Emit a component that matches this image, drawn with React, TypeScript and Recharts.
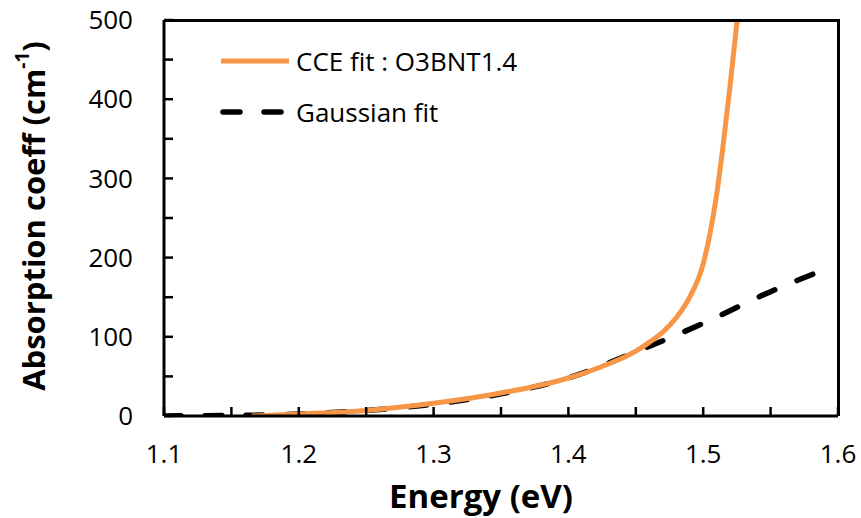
import React from 'react';
import { LineChart, Line, XAxis, YAxis } from 'recharts';

// Energy (eV) and absorption coefficient (cm^-1)
const cceEnergy = [1.165, 1.2, 1.25, 1.3, 1.35, 1.4, 1.43, 1.45, 1.46, 1.47, 1.48, 1.49, 1.5, 1.505, 1.51, 1.515, 1.52, 1.5252];
const cceValues = [0, 2.5, 7, 16, 29, 48, 66, 82, 93, 106, 124, 150, 192, 230, 280, 345, 418, 500];

const gaussEnergy = [1.1, 1.15, 1.2, 1.25, 1.3, 1.35, 1.4, 1.45, 1.5, 1.55, 1.59];
const gaussValues = [0.1, 0.6, 2.5, 7, 15, 28, 48, 81, 117, 157, 185];

const xTicks = [1.1, 1.15, 1.2, 1.25, 1.3, 1.35, 1.4, 1.45, 1.5, 1.55, 1.6];
const yTicks = [0, 50, 100, 150, 200, 250, 300, 350, 400, 450, 500];

const seriesNames = ['CCE fit : O3BNT1.4', 'Gaussian fit'];
const xTitle = 'Energy (eV)';
const yTitle = 'Absorption coeff (cm';

const cceData = cceEnergy.map((x, i) => ({ x, y: cceValues[i] }));
const gaussData = gaussEnergy.map((x, i) => ({ x, y: gaussValues[i] }));

const FONT = '"Open Sans", sans-serif';
const ORANGE = '#F79646';

const YTitle = (props: any) => {
  const vb = props.viewBox || { x: 0, y: 20, width: 164, height: 396 };
  const cx = vb.x + 33;
  const cy = vb.y + vb.height / 2 - 2;
  return (
    <text
      x={cx}
      y={cy}
      transform={`rotate(-90, ${cx}, ${cy})`}
      textAnchor="middle"
      dominantBaseline="central"
      fontFamily={FONT}
      fontWeight="bold"
      fontSize={31}
      fill="#000"
    >
      {yTitle}
      <tspan dy={-11} fontSize={19}>-1</tspan>
      <tspan dy={11}>)</tspan>
    </text>
  );
};

const XTitle = (props: any) => {
  const vb = props.viewBox || { x: 164, y: 416, width: 674, height: 60 };
  return (
    <text
      x={vb.x + 317}
      y={508}
      textAnchor="middle"
      fontFamily={FONT}
      fontWeight="bold"
      fontSize={33}
      fill="#000"
    >
      {xTitle}
    </text>
  );
};

const LegendBox = () => (
  <svg width={420} height={90} style={{ display: 'block', overflow: 'visible' }}>
    <line x1={1} x2={69} y1={16} y2={16} stroke={ORANGE} strokeWidth={5} />
    <text x={76} y={16} dominantBaseline="central" fontFamily={FONT} fontSize={26} fill="#000">
      {seriesNames[0]}
    </text>
    <line
      x1={3}
      x2={64}
      y1={67}
      y2={67}
      stroke="#000"
      strokeWidth={5.5}
      strokeLinecap="round"
      strokeDasharray="17 24"
    />
    <text x={76} y={67} dominantBaseline="central" fontFamily={FONT} fontSize={26} fill="#000">
      {seriesNames[1]}
    </text>
  </svg>
);

export default function App() {
  return (
    <div style={{ position: 'absolute', left: 0, top: 0, width: 861, height: 518, background: '#fff' }}>
      <LineChart
        width={861}
        height={518}
        margin={{ top: 20, right: 23, bottom: 42, left: 0 }}
        style={{ fontFamily: FONT }}
      >
        <XAxis
          dataKey="x"
          type="number"
          domain={[1.1, 1.6]}
          ticks={xTicks}
          allowDataOverflow
          height={60}
          tickSize={-9}
          tickMargin={38}
          interval={0}
          tickFormatter={(v: number) => (Math.round(v * 100) % 10 === 0 ? v.toFixed(1) : '')}
          tick={{ fill: '#000', fontSize: 26, fontFamily: FONT }}
          axisLine={{ stroke: '#000', strokeWidth: 3 }}
          tickLine={{ stroke: '#000', strokeWidth: 2.5 }}
          label={<XTitle />}
        />
        <YAxis
          type="number"
          domain={[0, 500]}
          ticks={yTicks}
          allowDataOverflow
          width={164}
          tickSize={-9}
          tickMargin={40}
          interval={0}
          tickFormatter={(v: number) => (v % 100 === 0 ? String(v) : '')}
          tick={{ fill: '#000', fontSize: 26, fontFamily: FONT }}
          axisLine={{ stroke: '#000', strokeWidth: 3 }}
          tickLine={{ stroke: '#000', strokeWidth: 2.5 }}
          label={<YTitle />}
        />
        <Line
          data={gaussData}
          dataKey="y"
          type="monotone"
          stroke="#000"
          strokeWidth={5.5}
          strokeLinecap="round"
          strokeDasharray="17 24"
          dot={false}
          activeDot={false}
          isAnimationActive={false}
        />
        <Line
          data={cceData}
          dataKey="y"
          type="monotone"
          stroke={ORANGE}
          strokeWidth={5}
          dot={false}
          activeDot={false}
          isAnimationActive={false}
        />
      </LineChart>
      {/* plot-area frame: top and right border */}
      <div
        style={{
          position: 'absolute',
          left: 164,
          top: 18.5,
          width: 675.5,
          height: 397.5,
          boxSizing: 'border-box',
          borderTop: '3px solid #000',
          borderRight: '3px solid #000',
          pointerEvents: 'none',
        }}
      />
      <div style={{ position: 'absolute', left: 220, top: 45, width: 420, height: 90 }}>
        <LegendBox />
      </div>
    </div>
  );
}
